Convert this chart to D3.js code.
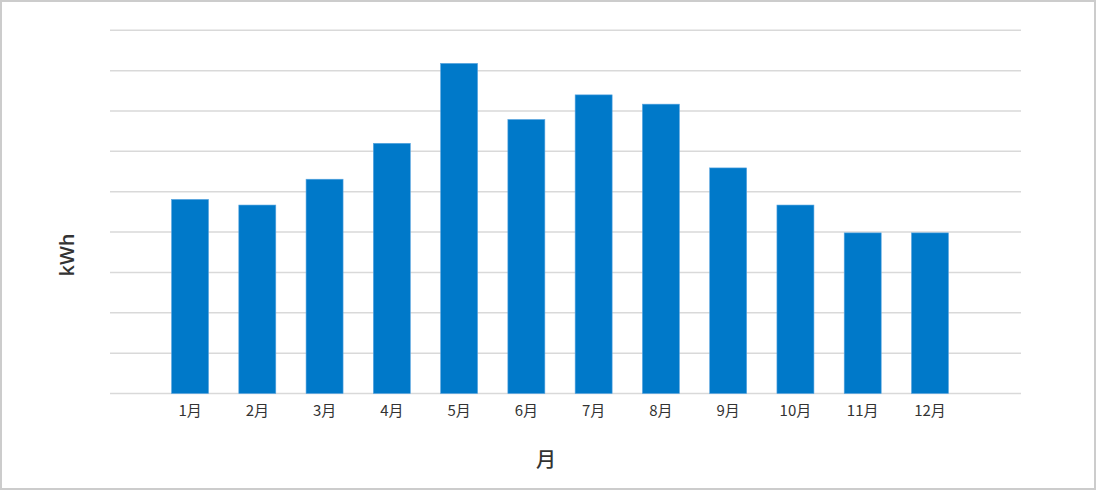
<!DOCTYPE html>
<html>
<head>
<meta charset="utf-8">
<script src="https://cdn.jsdelivr.net/npm/d3@7"></script>
<style>
  body { margin: 0; background: #fff; }
  svg { display: block; }
</style>
</head>
<body>
<svg width="1096" height="490"></svg>
<script>
const months = ['1月', '2月', '3月', '4月', '5月', '6月', '7月', '8月', '9月', '10月', '11月', '12月'];
const kwh = [4.81, 4.67, 5.31, 6.2, 8.18, 6.79, 7.4, 7.17, 5.59, 4.67, 3.98, 3.98];
const gridTicks = [0, 1, 2, 3, 4, 5, 6, 7, 8, 9];

const svg = d3.select('svg');
const W = 1096;
const H = 490;

// outer frame
svg.append('rect')
  .attr('x', 1)
  .attr('y', 1)
  .attr('width', W - 2)
  .attr('height', H - 2)
  .attr('fill', '#fff')
  .attr('stroke', '#cccccc')
  .attr('stroke-width', 2);

const gridLeft = 110;
const gridRight = 1021;

const x = d3.scaleBand()
  .domain(months)
  .range([156.4, 963.6])
  .paddingInner(0.45)
  .paddingOuter(0.225);

const y = d3.scaleLinear()
  .domain([0, 9])
  .range([393.5, 30.3]);

// gridlines
svg.append('g')
  .selectAll('line')
  .data(gridTicks)
  .enter()
  .append('line')
  .attr('x1', gridLeft)
  .attr('x2', gridRight)
  .attr('y1', d => y(d))
  .attr('y2', d => y(d))
  .attr('stroke', '#d9d9d9')
  .attr('stroke-width', 1.5);

// bars
svg.append('g')
  .selectAll('rect')
  .data(months)
  .enter()
  .append('rect')
  .attr('x', d => x(d))
  .attr('y', (d, i) => y(kwh[i]))
  .attr('width', x.bandwidth())
  .attr('height', (d, i) => y(0) - y(kwh[i]))
  .attr('fill', '#0079c9')
  .attr('stroke', '#5aa6e0')
  .attr('stroke-width', 0.6);

// month labels
const xAxis = svg.append('g')
  .attr('transform', `translate(0, ${y(0)})`)
  .call(d3.axisBottom(x).tickSize(0).tickPadding(12));
xAxis.select('.domain').remove();
xAxis.selectAll('text')
  .attr('font-family', '"Noto Sans CJK JP", "Noto Sans", sans-serif')
  .attr('font-size', 15)
  .attr('fill', '#333');

// axis titles
svg.append('text')
  .attr('x', 546)
  .attr('y', 467)
  .attr('text-anchor', 'middle')
  .attr('font-family', '"Noto Sans CJK JP", sans-serif')
  .attr('font-size', 20)
  .attr('font-weight', 500)
  .attr('fill', '#333')
  .text('月');

svg.append('text')
  .attr('transform', 'translate(74, 255) rotate(-90)')
  .attr('text-anchor', 'middle')
  .attr('font-family', '"Open Sans", "Noto Sans", sans-serif')
  .attr('font-size', 20)
  .attr('font-weight', 600)
  .attr('fill', '#333')
  .text('kWh');
</script>
</body>
</html>
